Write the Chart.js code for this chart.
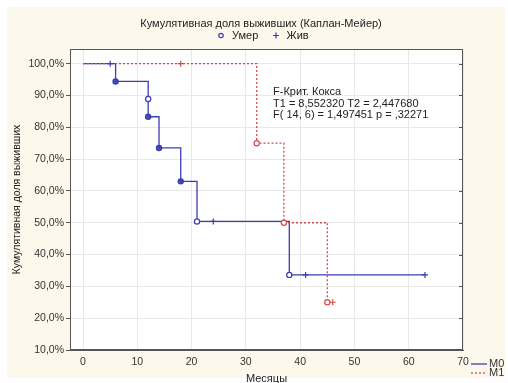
<!DOCTYPE html>
<html>
<head>
<meta charset="utf-8">
<script src="https://cdn.jsdelivr.net/npm/chart.js@4"></script>
<style>
  html, body { margin: 0; padding: 0; background: #fff; }
</style>
</head>
<body>
<canvas id="kmCanvas" width="508" height="383"></canvas>
<script>
// данные (месяцы, % выживших)
const xTicks = [0, 10, 20, 30, 40, 50, 60, 70]
const yTicks = [10, 20, 30, 40, 50, 60, 70, 80, 90, 100]

// группа M0
const m0Time = [0, 6, 12, 14, 18, 21, 38, 63]
const m0Surv = [100, 94.4, 83.3, 73.5, 63.0, 50.4, 33.6, 33.6]
const m0DeathTime = [6, 12, 12, 14, 18, 21, 38]
const m0DeathSurv = [94.4, 88.9, 83.3, 73.5, 63.0, 50.4, 33.6]
const m0DeathTied = [true, false, true, true, true, false, false]
const m0CensTime = [5, 24, 41, 63]
const m0CensSurv = [100, 50.4, 33.6, 33.6]

// группа M1
const m1Time = [0, 32, 37, 45, 46]
const m1Surv = [100, 75, 50, 25, 25]
const m1DeathTime = [32, 37, 45]
const m1DeathSurv = [75, 50, 25]
const m1CensTime = [18, 46]
const m1CensSurv = [100, 25]

const statLines = ['F-Крит. Кокса', 'T1 = 8,552320 T2 = 2,447680', 'F( 14, 6) = 1,497451 p = ,32271']

const azul = '#3c3cb4'
const vermelho = '#d24a4a'
const fonte = '"Liberation Sans", Arial, sans-serif'

function pontos(xs, ys) {
    return xs.map((x, i) => ({ x: x, y: ys[i] }))
}

const decor = {
    id: 'decor',
    beforeDraw(chart) {
        const { ctx, chartArea: a } = chart
        ctx.save()
        ctx.fillStyle = '#fff'
        ctx.fillRect(0, 0, chart.width, chart.height)
        ctx.fillStyle = '#fcf8ec'
        ctx.fillRect(7, 7, 498, 371)
        ctx.fillStyle = '#fff'
        ctx.fillRect(a.left, a.top, a.right - a.left, a.bottom - a.top)
        ctx.restore()
    },
    afterDraw(chart) {
        const { ctx, chartArea: a } = chart
        const ys = chart.scales.y
        ctx.save()
        // рамка
        ctx.strokeStyle = '#555'
        ctx.lineWidth = 1
        ctx.strokeRect(a.left + 0.5, a.top + 0.5, a.right - a.left - 1, a.bottom - a.top - 1)
        yTicks.forEach(v => {
            const py = Math.round(ys.getPixelForValue(v)) + 0.5
            ctx.beginPath()
            ctx.moveTo(a.right - 4, py)
            ctx.lineTo(a.right, py)
            ctx.stroke()
        })

        ctx.fillStyle = '#222'
        ctx.textBaseline = 'middle'
        ctx.font = '11px ' + fonte
        ctx.textAlign = 'center'
        ctx.fillText('Кумулятивная доля выживших (Каплан-Мейер)', 261, 23.5)

        // легенда маркеров
        ctx.textAlign = 'left'
        ctx.strokeStyle = azul
        ctx.lineWidth = 1.2
        ctx.beginPath()
        ctx.arc(221, 35.5, 2.2, 0, Math.PI * 2)
        ctx.stroke()
        ctx.fillText('Умер', 232, 36)
        ctx.beginPath()
        ctx.moveTo(273, 35.5); ctx.lineTo(279, 35.5)
        ctx.moveTo(276, 32.5); ctx.lineTo(276, 38.5)
        ctx.stroke()
        ctx.fillText('Жив', 286.5, 36)

        // критерий
        statLines.forEach((t, i) => ctx.fillText(t, 273, 92 + i * 11.7))

        // легенда групп
        ctx.lineWidth = 1.3
        ctx.strokeStyle = azul
        ctx.beginPath(); ctx.moveTo(471, 364); ctx.lineTo(487, 364); ctx.stroke()
        ctx.strokeStyle = vermelho
        ctx.setLineDash([2, 2])
        ctx.beginPath(); ctx.moveTo(471, 373); ctx.lineTo(487, 373); ctx.stroke()
        ctx.setLineDash([])
        ctx.fillStyle = '#333'
        ctx.fillText('M0', 489, 364)
        ctx.fillText('M1', 489, 373)
        ctx.restore()
    }
}

const kmChart = new Chart(document.getElementById('kmCanvas'), {
    type: 'scatter',
    data: {
        datasets: [
            {
                label: 'M1 умер',
                data: pontos(m1DeathTime, m1DeathSurv),
                pointStyle: 'circle',
                pointRadius: 2.6,
                borderColor: vermelho,
                backgroundColor: '#fff',
                borderWidth: 1.2
            },
            {
                label: 'M1 жив',
                data: pontos(m1CensTime, m1CensSurv),
                pointStyle: 'cross',
                pointRadius: 3,
                borderColor: vermelho,
                borderWidth: 1.2
            },
            {
                label: 'M0 умер',
                data: pontos(m0DeathTime, m0DeathSurv),
                pointStyle: 'circle',
                pointRadius: 2.6,
                borderColor: azul,
                backgroundColor: ctx => m0DeathTied[ctx.dataIndex] ? 'rgba(60,60,180,0.9)' : '#fff',
                borderWidth: 1.2
            },
            {
                label: 'M0 жив',
                data: pontos(m0CensTime, m0CensSurv),
                pointStyle: 'cross',
                pointRadius: 3,
                borderColor: azul,
                borderWidth: 1.2
            },
            {
                label: 'M1',
                data: pontos(m1Time, m1Surv),
                showLine: true,
                stepped: 'before',
                borderColor: vermelho,
                borderWidth: 1.3,
                borderDash: [2, 2],
                pointRadius: 0
            },
            {
                label: 'M0',
                data: pontos(m0Time, m0Surv),
                showLine: true,
                stepped: 'before',
                borderColor: azul,
                borderWidth: 1.3,
                pointRadius: 0
            }
        ]
    },
    options: {
        responsive: false,
        animation: false,
        layout: {
            padding: { left: 0, top: 49, right: 45, bottom: 0 }
        },
        plugins: {
            legend: { display: false },
            tooltip: { enabled: false },
            title: { display: false }
        },
        scales: {
            x: {
                type: 'linear',
                min: -2.4,
                max: 70,
                afterBuildTicks: scale => { scale.ticks = xTicks.map(v => ({ value: v })) },
                afterFit: scale => { scale.height = 33 },
                ticks: {
                    color: '#333',
                    padding: 6,
                    font: { family: fonte, size: 10.5 }
                },
                grid: {
                    color: '#e8e8e8',
                    drawTicks: false
                },
                border: { color: '#555' },
                title: {
                    display: true,
                    text: 'Месяцы',
                    color: '#222',
                    padding: { top: 0, bottom: -3 },
                    font: { family: fonte, size: 11 }
                }
            },
            y: {
                type: 'linear',
                min: 10,
                max: 104.6,
                afterBuildTicks: scale => { scale.ticks = yTicks.map(v => ({ value: v })) },
                afterFit: scale => { scale.width = 70 },
                ticks: {
                    color: '#333',
                    padding: 2,
                    font: { family: fonte, size: 10.5 },
                    callback: v => v.toFixed(1).replace('.', ',') + '%'
                },
                grid: {
                    color: '#e8e8e8',
                    tickColor: '#555',
                    tickLength: 4
                },
                border: { color: '#555' },
                title: {
                    display: true,
                    text: 'Кумулятивная доля выживших',
                    color: '#222',
                    padding: { top: 11, bottom: 0 },
                    font: { family: fonte, size: 10.5 }
                }
            }
        }
    },
    plugins: [decor]
})
</script>
</body>
</html>
